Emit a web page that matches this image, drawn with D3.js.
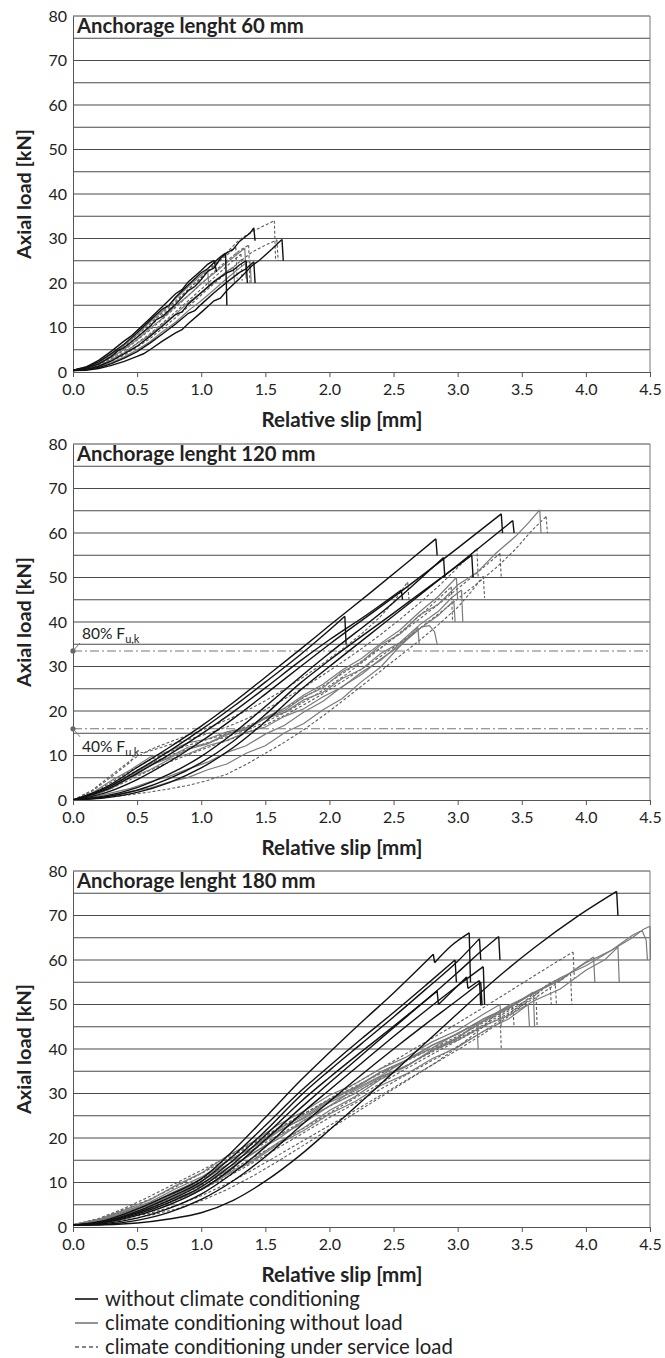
<!DOCTYPE html>
<html><head><meta charset="utf-8">
<script src="https://cdn.jsdelivr.net/npm/d3@7"></script>
<style>
body{margin:0;background:#fff}
svg{display:block}
text{font-family:Lato,"Open Sans",sans-serif;fill:#222}
</style>
</head><body>
<svg id="c" width="665" height="1358"></svg>
<script>
// ---------- DATA ----------
const xTicks = [0,0.5,1,1.5,2,2.5,3,3.5,4,4.5];
const yTicks = [0,10,20,30,40,50,60,70,80];
const gridValues = [5,10,15,20,25,30,35,40,45,50,55,60,65,70,75,80];
const panelTitles = ["Anchorage lenght 60 mm","Anchorage lenght 120 mm","Anchorage lenght 180 mm"];
const xLabel = "Relative slip [mm]";
const yLabel = "Axial load [kN]";
const legendLabels = ["without climate conditioning","climate conditioning without load","climate conditioning under service load"];
const refLevels = [33.5, 16];
const refLabels = ["80% F","40% F"];
const refSub = "u,k";

// 60 mm
const p60Black = [
 [[0,0.4],[0.1,0.8],[0.2,1.8],[0.3,3.5],[0.35,4.8],[0.4,5.5],[0.5,7.8],[0.6,10.3],[0.65,11.8],[0.7,12.5],[0.8,15.2],[0.9,18.3],[0.95,19.2],[1.0,20.8],[1.05,22.6],[1.1,23.4],[1.15,25.5],[1.2,26.8],[1.25,27.6],[1.3,29.4],[1.35,30.5],[1.38,31.2],[1.41,32.4],[1.42,29.5]],
 [[0,0.4],[0.1,1.0],[0.2,2.3],[0.3,4.2],[0.4,6.3],[0.5,8.8],[0.6,11.6],[0.7,14.2],[0.75,15.0],[0.8,16.8],[0.9,19.6],[1.0,22.3],[1.05,23.2],[1.1,24.6],[1.15,25.9],[1.19,26.7],[1.2,15]],
 [[0,0.3],[0.1,0.4],[0.2,0.8],[0.3,1.5],[0.4,2.4],[0.5,3.5],[0.55,4.1],[0.6,5.0],[0.7,7.0],[0.8,8.8],[0.85,9.5],[0.9,10.9],[1.0,13.4],[1.1,16.0],[1.15,16.6],[1.2,18.3],[1.3,21.0],[1.4,24.0],[1.45,25.0],[1.5,26.3],[1.55,27.6],[1.6,29.0],[1.63,29.8],[1.64,25]],
 [[0,0.3],[0.1,0.6],[0.2,1.3],[0.3,2.5],[0.4,4.1],[0.5,5.8],[0.6,8.0],[0.7,10.4],[0.8,12.9],[0.85,13.5],[0.9,15.3],[1.0,17.8],[1.1,20.3],[1.2,22.3],[1.25,22.9],[1.3,24.1],[1.35,25.0],[1.36,20]],
 [[0,0.3],[0.1,0.5],[0.2,1.0],[0.3,1.9],[0.4,3.1],[0.5,4.6],[0.6,6.5],[0.7,8.6],[0.8,10.8],[0.9,13.2],[0.95,13.8],[1.0,15.2],[1.1,17.8],[1.2,20.2],[1.3,22.4],[1.35,23.2],[1.41,24.8],[1.42,20]],
 [[0,0.4],[0.1,1.1],[0.2,2.6],[0.3,4.7],[0.4,7.0],[0.45,8.0],[0.5,9.3],[0.6,12.0],[0.7,14.8],[0.8,17.6],[0.85,18.5],[0.9,20.3],[1.0,22.8],[1.05,24.2],[1.1,25.1],[1.12,22.5]]
];
const p60Grey = [
 [[0,0.4],[0.1,0.8],[0.2,1.8],[0.3,3.3],[0.4,5.1],[0.5,7.3],[0.6,9.8],[0.7,12.1],[0.8,14.9],[0.9,17.2],[1.0,19.9],[1.1,22.2],[1.2,24.6],[1.3,26.9],[1.34,27.8],[1.35,21]],
 [[0,0.4],[0.1,0.7],[0.2,1.4],[0.3,2.8],[0.4,4.3],[0.5,6.4],[0.6,8.3],[0.7,10.8],[0.8,13.0],[0.9,15.6],[1.0,17.9],[1.1,20.4],[1.2,22.6],[1.25,23.6],[1.26,20]],
 [[0,0.4],[0.1,1.0],[0.2,2.1],[0.3,3.9],[0.4,6.0],[0.5,8.4],[0.6,11.2],[0.7,13.7],[0.8,16.5],[0.9,19.2],[1.0,21.8],[1.05,23.0],[1.06,19]],
 [[0,0.3],[0.1,0.6],[0.2,1.1],[0.3,2.1],[0.4,3.4],[0.5,5.0],[0.6,6.8],[0.7,9.1],[0.8,11.2],[0.9,13.8],[1.0,16.0],[1.1,18.5],[1.2,21.0],[1.3,23.4],[1.38,25.2],[1.39,20]]
];
const p60Dashed = [
 [[0,0.4],[0.2,1.9],[0.4,5.4],[0.6,10.2],[0.8,15.6],[0.9,18.5],[1.0,21.3],[1.1,24.2],[1.2,26.9],[1.3,29.8],[1.4,31.6],[1.5,33.0],[1.57,34.0],[1.58,25]],
 [[0,0.3],[0.2,1.2],[0.4,3.8],[0.6,7.5],[0.8,12.2],[0.9,14.7],[1.0,17.3],[1.1,19.9],[1.2,22.3],[1.3,24.8],[1.4,27.0],[1.5,28.5],[1.59,29.7],[1.6,25]],
 [[0,0.4],[0.2,1.7],[0.4,4.9],[0.6,9.4],[0.8,14.5],[0.9,17.2],[1.0,19.8],[1.1,22.5],[1.2,25.0],[1.3,27.3],[1.37,28.5],[1.38,20]],
 [[0,0.4],[0.2,1.5],[0.4,4.4],[0.6,8.6],[0.8,13.5],[1.0,18.6],[1.1,21.2],[1.2,23.8],[1.31,26.5],[1.32,20.5]],
 [[0,0.4],[0.2,2.0],[0.4,5.8],[0.6,10.8],[0.8,16.0],[1.0,21.2],[1.1,23.8],[1.2,26.3],[1.27,28],[1.28,21]]
];

// 120 mm
const p120Black = [
 [[0,0],[0.25,2.8],[0.5,7.3],[0.75,11.8],[1.0,16.6],[1.25,21.9],[1.5,27.6],[1.77,33.8],[2.0,39.2],[2.32,46.6],[2.6,53.2],[2.83,58.7],[2.84,55]],
 [[0,0],[0.25,2.5],[0.5,6.6],[0.75,11],[1.0,15.8],[1.25,21],[1.5,26.5],[1.77,32.6],[2.0,38.2],[2.12,41.3],[2.13,35]],
 [[0,0],[0.25,2.2],[0.5,6],[0.75,10.2],[1.0,14.8],[1.25,19.8],[1.5,25.2],[1.77,31.2],[2.0,36],[2.3,41.8],[2.56,47.2],[2.57,45]],
 [[0,0],[0.25,1.6],[0.5,4.6],[0.75,8.6],[1.0,13.2],[1.25,18.3],[1.5,23.8],[1.77,29.9],[2.0,35],[2.5,45.6],[3.0,56.6],[3.34,64.3],[3.35,60]],
 [[0,0],[0.25,0.9],[0.5,2.8],[0.75,5.8],[1.0,9.8],[1.25,15],[1.5,21],[1.77,27.6],[2.0,33],[2.5,44.4],[2.89,54.5],[2.9,50]],
 [[0,0],[0.25,0.7],[0.5,2.2],[0.75,4.8],[1.0,8.4],[1.25,13.2],[1.5,19.2],[1.77,26.2],[2.0,31.4],[2.5,42],[2.8,48.4],[3.11,55],[3.12,50]],
 [[0,0],[0.25,0.5],[0.5,1.7],[0.75,3.9],[1.0,7.2],[1.25,11.8],[1.5,17.6],[1.77,24.6],[2.0,30],[2.5,41.4],[3.0,52.8],[3.43,62.8],[3.44,60]]
];
const p120Grey = [
 [[0,0],[0.15,1.2],[0.3,3.5],[0.45,5.4],[0.6,8.1],[0.75,9.6],[0.9,11.9],[1.05,12.7],[1.2,14.9],[1.35,15.8],[1.5,18.4],[1.65,20.1],[1.8,23.2],[1.95,25.2],[2.1,28.8],[2.25,31.0],[2.4,34.9],[2.55,37.3],[2.7,41.5],[2.85,44.0],[3.0,48.3],[3.15,51.1],[3.3,55.5],[3.45,59.2],[3.55,62.2],[3.64,65.2],[3.65,60]],
 [[0,0],[0.15,1.6],[0.3,4.4],[0.45,6.8],[0.6,9.6],[0.75,11.0],[0.9,12.9],[1.05,13.7],[1.2,15.3],[1.35,16.2],[1.5,18.3],[1.65,19.7],[1.8,22.5],[1.95,24.2],[2.1,27.3],[2.25,29.4],[2.4,32.9],[2.55,35.4],[2.7,39.3],[2.85,42.4],[2.95,45.4],[3.03,47.2],[3.04,40]],
 [[0,0],[0.15,1.0],[0.3,2.6],[0.45,5.1],[0.6,6.8],[0.75,9.1],[0.9,10.4],[1.05,12.2],[1.2,13.4],[1.35,15.2],[1.5,16.4],[1.65,18.8],[1.8,20.5],[1.95,23.2],[2.1,25.4],[2.25,28.7],[2.4,31.4],[2.55,35.1],[2.65,37.2],[2.72,38.9],[2.78,39.2],[2.82,37.8],[2.84,35]],
 [[0,0],[0.15,0.4],[0.3,1.0],[0.45,1.9],[0.6,2.7],[0.75,4.0],[0.9,5.1],[1.05,6.8],[1.2,8.1],[1.35,10.5],[1.5,12.2],[1.65,15.1],[1.8,17.2],[1.95,20.3],[2.1,22.8],[2.25,26.6],[2.4,29.9],[2.55,34.6],[2.69,38.8],[2.7,35]],
 [[0,0],[0.15,1.1],[0.3,3.2],[0.45,5.0],[0.6,7.8],[0.75,9.4],[0.9,11.4],[1.05,12.6],[1.2,14.6],[1.35,16.1],[1.5,18.6],[1.65,20.6],[1.8,23.6],[1.95,26.0],[2.1,29.2],[2.25,31.8],[2.4,35.2],[2.55,38.2],[2.7,42.2],[2.85,45.8],[2.99,50.0],[3.0,45]],
 [[0,0],[0.15,0.6],[0.3,1.6],[0.45,2.6],[0.6,4.1],[0.75,5.3],[0.9,7.0],[1.05,8.5],[1.2,10.7],[1.35,12.2],[1.5,14.8],[1.65,16.8],[1.8,19.8],[1.95,22.2],[2.1,25.5],[2.25,28.2],[2.4,31.7],[2.55,34.6],[2.7,38.4],[2.85,41.5],[2.97,44.8],[2.98,40]]
];
const p120Dashed = [
 [[0,0],[0.15,0.9],[0.3,2.6],[0.45,4.6],[0.6,6.7],[0.75,8.5],[0.9,10.2],[1.05,11.8],[1.2,13.3],[1.35,15.0],[1.5,16.9],[1.65,19.0],[1.8,21.4],[1.95,23.9],[2.1,26.6],[2.25,29.4],[2.4,32.3],[2.55,35.3],[2.7,38.5],[2.85,41.8],[3.0,45.2],[3.15,48.6],[3.3,52.2],[3.45,56.3],[3.58,60.6],[3.69,63.7],[3.7,60]],
 [[0,0],[0.15,1.5],[0.3,4.0],[0.45,6.6],[0.6,9.0],[0.75,10.8],[0.9,12.3],[1.05,13.6],[1.2,14.9],[1.35,16.5],[1.5,18.4],[1.65,20.6],[1.8,23.0],[1.95,25.6],[2.1,28.4],[2.25,31.2],[2.4,34.2],[2.55,37.4],[2.7,40.6],[2.85,44.0],[3.0,47.5],[3.15,51.0],[3.33,55.4],[3.34,50]],
 [[0,0],[0.15,2.0],[0.3,5.2],[0.45,8.6],[0.5,10.9],[0.55,10.6],[0.6,11.0],[0.75,12.4],[0.9,13.6],[1.05,14.9],[1.2,16.4],[1.35,18.2],[1.5,20.3],[1.65,22.7],[1.8,25.3],[1.95,28.1],[2.1,31.0],[2.25,34.0],[2.4,37.2],[2.55,40.6],[2.7,44.2],[2.85,48.0],[3.0,52.2],[3.15,56.5],[3.16,50]],
 [[0,0],[0.15,0.3],[0.3,0.7],[0.45,1.2],[0.6,1.8],[0.75,2.5],[0.9,3.3],[1.05,4.4],[1.2,5.8],[1.35,8.0],[1.5,10.5],[1.65,13.0],[1.8,15.8],[1.95,18.9],[2.1,22.2],[2.25,25.6],[2.4,29.0],[2.55,32.4],[2.7,35.8],[2.85,39.4],[3.0,43.3],[3.1,46.6],[3.2,50.3],[3.21,45.4]],
 [[0,0],[0.15,1.3],[0.3,3.5],[0.45,5.9],[0.6,8.2],[0.75,10.0],[0.9,11.5],[1.05,12.9],[1.2,14.2],[1.35,15.7],[1.5,17.5],[1.65,19.6],[1.8,22.0],[1.95,24.7],[2.1,27.6],[2.25,30.8],[2.4,34.1],[2.55,37.6],[2.7,41.3],[2.85,45.2],[2.95,47.9],[2.96,40]],
 [[0,0],[0.15,2.2],[0.3,5.6],[0.45,8.9],[0.6,11.3],[0.75,13.0],[0.9,14.6],[1.05,16.2],[1.2,18.0],[1.35,20.0],[1.5,22.3],[1.65,24.9],[1.8,27.7],[1.95,30.7],[2.1,33.9],[2.25,37.3],[2.4,41.3],[2.5,44.5],[2.61,49.0],[2.62,45]]
];

// 180 mm
const p180Black = [
 [[0,0.4],[0.25,1.5],[0.5,4.0],[0.75,7.2],[1.0,10.8],[1.25,17.2],[1.5,24.6],[1.77,32.8],[2.0,39.2],[2.25,46],[2.5,52.6],[2.81,61.3],[2.82,59.4],[2.95,63.2],[3.09,66.1],[3.1,55]],
 [[0,0.4],[0.25,1.3],[0.5,3.5],[0.75,6.6],[1.0,10.2],[1.25,16.0],[1.5,22.8],[1.77,30.4],[2.0,36.2],[2.25,42.3],[2.5,48.2],[2.75,54.3],[2.98,60],[2.99,55]],
 [[0,0.4],[0.25,1.2],[0.5,3.2],[0.75,6.0],[1.0,9.6],[1.25,15.0],[1.5,21.6],[1.77,29.4],[2.0,35.2],[2.25,41.2],[2.5,47.2],[2.75,53.4],[3.0,59.7],[3.17,64.8],[3.18,60]],
 [[0,0.4],[0.25,1.0],[0.5,2.6],[0.75,5.0],[1.0,8.4],[1.25,13.4],[1.5,19.6],[1.77,26.6],[2.0,32.4],[2.25,38.6],[2.5,44.8],[2.75,50.9],[3.0,57.2],[3.2,62.4],[3.32,65.3],[3.33,60]],
 [[0,0.4],[0.25,1.1],[0.5,2.9],[0.75,5.5],[1.0,9.0],[1.25,14.2],[1.5,20.6],[1.77,28.0],[2.0,33.6],[2.25,39.4],[2.5,45.1],[2.84,53],[2.85,50],[3.07,56.2],[3.08,53.6],[3.17,55.4],[3.18,49.8]],
 [[0,0.4],[0.25,0.8],[0.5,2.0],[0.75,4.2],[1.0,7.4],[1.25,12.2],[1.5,18.0],[1.77,25.2],[2.0,30.8],[2.25,36.8],[2.5,42.8],[2.75,48.6],[3.0,54.2],[3.2,58.5],[3.21,50]],
 [[0,0.4],[0.25,0.6],[0.5,1.5],[0.75,3.3],[1.0,6.2],[1.25,10.4],[1.5,15.8],[1.77,22.6],[2.0,28.2],[2.25,34.2],[2.5,40.0],[2.75,45.6],[3.0,51.0],[3.18,55.0],[3.19,49.8]],
 [[0,0.4],[0.25,0.5],[0.5,0.9],[0.75,1.8],[1.0,3.2],[1.25,6.0],[1.5,10.3],[1.77,16.1],[2.0,21.8],[2.25,28.2],[2.5,34.8],[2.75,41.4],[3.0,48.0],[3.3,55.8],[3.6,62.8],[3.94,69.9],[4.24,75.4],[4.25,70]]
];
const p180Grey = [
 [[0,0.5],[0.2,1.4],[0.4,2.9],[0.6,5.0],[0.8,6.9],[1.0,9.8],[1.2,12.6],[1.4,16.6],[1.6,19.8],[1.8,24.0],[2.0,27.2],[2.2,31.0],[2.4,34.0],[2.6,37.5],[2.8,40.2],[3.0,43.6],[3.2,46.3],[3.4,49.8],[3.6,52.6],[3.8,56.0],[4.0,58.7],[4.2,62.2],[4.35,64.8],[4.45,66.9],[4.5,67.6],[4.505,60]],
 [[0,0.5],[0.2,1.2],[0.4,2.6],[0.6,4.1],[0.8,6.5],[1.0,8.6],[1.2,12.0],[1.4,15.0],[1.6,19.0],[1.8,22.3],[2.0,26.2],[2.2,29.3],[2.4,33.2],[2.6,36.1],[2.8,39.8],[3.0,42.6],[3.2,46.2],[3.4,49.1],[3.6,52.8],[3.8,55.7],[4.0,59.4],[4.2,62.2],[4.36,65.5],[4.42,66.4],[4.44,66.5],[4.47,64.5],[4.48,60]],
 [[0,0.5],[0.2,1.3],[0.4,2.8],[0.6,4.5],[0.8,7.0],[1.0,9.5],[1.2,13.2],[1.4,16.4],[1.6,20.4],[1.8,23.4],[2.0,27.2],[2.2,30.0],[2.4,33.6],[2.6,36.2],[2.8,39.6],[3.0,42.0],[3.2,45.2],[3.4,47.6],[3.6,50.9],[3.8,53.5],[4.0,57.7],[4.15,60.1],[4.25,62.9],[4.26,55]],
 [[0,0.5],[0.2,1.5],[0.4,3.3],[0.6,5.3],[0.8,8.1],[1.0,10.8],[1.2,14.7],[1.4,18.0],[1.6,22.0],[1.8,25.0],[2.0,28.7],[2.2,31.4],[2.4,34.9],[2.6,37.5],[2.8,40.9],[3.0,43.4],[3.2,46.7],[3.4,49.3],[3.6,52.7],[3.8,55.4],[3.95,58.6],[4.06,60.7],[4.07,55]],
 [[0,0.5],[0.2,1.4],[0.4,3.1],[0.6,4.9],[0.8,7.6],[1.0,10.2],[1.2,14.0],[1.4,17.3],[1.6,21.4],[1.8,24.6],[2.0,28.4],[2.2,31.2],[2.4,34.8],[2.6,37.4],[2.8,40.8],[3.0,43.4],[3.2,46.8],[3.4,49.4],[3.59,52.8],[3.6,45]],
 [[0,0.5],[0.2,1.1],[0.4,2.4],[0.6,3.8],[0.8,6.1],[1.0,8.3],[1.2,11.7],[1.4,14.7],[1.6,18.6],[1.8,21.7],[2.0,25.4],[2.2,28.2],[2.4,31.8],[2.6,34.4],[2.8,37.8],[3.0,40.4],[3.2,44.0],[3.4,46.8],[3.55,50.0],[3.56,45]],
 [[0,0.5],[0.2,1.6],[0.4,3.5],[0.6,5.6],[0.8,8.6],[1.0,11.2],[1.2,14.8],[1.4,17.8],[1.6,21.6],[1.8,24.4],[2.0,28.0],[2.2,30.6],[2.4,33.8],[2.6,36.2],[2.8,39.6],[3.0,42.4],[3.15,45.8],[3.16,40]],
 [[0,0.5],[0.2,1.7],[0.4,3.8],[0.6,6.1],[0.8,9.3],[1.0,12.1],[1.2,15.9],[1.4,19.1],[1.6,23.0],[1.8,26.0],[2.0,29.6],[2.2,32.2],[2.4,35.6],[2.6,38.2],[2.8,41.6],[3.0,44.2],[3.2,47.8],[3.33,50.0],[3.34,45]]
];
const p180Dashed = [
 [[0,0.5],[0.2,1.8],[0.4,3.9],[0.6,6.3],[0.8,9.0],[1.0,12.0],[1.2,15.2],[1.4,18.6],[1.6,22.0],[1.8,25.4],[2.0,28.8],[2.2,32.2],[2.4,35.6],[2.6,39.0],[2.8,42.4],[3.0,45.8],[3.2,49.3],[3.4,52.9],[3.6,56.5],[3.75,59.2],[3.9,61.8],[3.91,56]],
 [[0,0.5],[0.2,1.3],[0.4,2.7],[0.6,4.5],[0.8,6.7],[1.0,9.3],[1.2,12.3],[1.4,15.5],[1.6,18.8],[1.8,22.2],[2.0,25.6],[2.2,29.0],[2.4,32.3],[2.6,35.6],[2.8,38.8],[3.0,41.9],[3.2,45.0],[3.4,48.1],[3.6,51.4],[3.75,54.3],[3.88,57.0],[3.89,50.2]],
 [[0,0.5],[0.2,1.5],[0.4,3.2],[0.6,5.3],[0.8,7.8],[1.0,10.7],[1.2,13.9],[1.4,17.3],[1.6,20.6],[1.8,23.9],[2.0,27.1],[2.2,30.2],[2.4,33.3],[2.6,36.3],[2.8,39.3],[3.0,42.3],[3.2,45.4],[3.4,48.6],[3.6,52.0],[3.76,55.4],[3.77,50.2]],
 [[0,0.5],[0.2,1.0],[0.4,1.9],[0.6,3.1],[0.8,4.8],[1.0,7.0],[1.2,9.7],[1.4,12.8],[1.6,16.1],[1.8,19.5],[2.0,22.8],[2.2,26.2],[2.4,29.6],[2.6,33.0],[2.8,36.4],[3.0,39.8],[3.2,43.4],[3.4,47.4],[3.6,52.0],[3.72,55.0],[3.73,50]],
 [[0,0.5],[0.2,1.2],[0.4,2.4],[0.6,4.0],[0.8,6.0],[1.0,8.4],[1.2,11.2],[1.4,14.4],[1.6,17.8],[1.8,21.2],[2.0,24.6],[2.2,27.8],[2.4,31.0],[2.6,34.2],[2.8,37.4],[3.0,40.6],[3.2,43.9],[3.4,47.8],[3.61,52.8],[3.62,45]],
 [[0,0.5],[0.2,1.9],[0.4,4.2],[0.6,6.9],[0.8,9.8],[1.0,12.7],[1.2,15.7],[1.4,18.9],[1.6,22.2],[1.8,25.5],[2.0,28.6],[2.2,31.6],[2.4,34.5],[2.6,37.3],[2.8,40.1],[3.0,42.9],[3.2,45.9],[3.43,49.4],[3.44,45]],
 [[0,0.5],[0.2,0.9],[0.4,1.6],[0.6,2.6],[0.8,4.0],[1.0,5.9],[1.2,8.4],[1.4,11.4],[1.6,14.8],[1.8,18.4],[2.0,22.0],[2.2,25.6],[2.4,29.2],[2.6,32.8],[2.8,36.4],[3.0,40.4],[3.2,45.0],[3.33,48.7],[3.34,40]]
];

// ---------- LAYOUT ----------
const panels = [
 {title: panelTitles[0], black: p60Black, grey: p60Grey, dashed: p60Dashed, smoothBlack: false, refs: false},
 {title: panelTitles[1], black: p120Black, grey: p120Grey, dashed: p120Dashed, smoothBlack: true, refs: true},
 {title: panelTitles[2], black: p180Black, grey: p180Grey, dashed: p180Dashed, smoothBlack: true, refs: false}
];
const L = 73, R = 650, PH = 356;
const tops = [16, 444, 871];
const svg = d3.select("#c");
const x = d3.scaleLinear().domain([0,4.5]).range([L,R]);

function fitFont(sel, target, base){
  sel.style("font-size", base+"px");
  const w = sel.node().getComputedTextLength();
  const fs = base*target/w;
  sel.style("font-size", fs+"px");
  return fs;
}

function splitSegs(pts){
  const segs=[]; let cur=[pts[0]];
  for(let k=1;k<pts.length;k++){
    const a=pts[k-1], b=pts[k];
    if(b[1] < a[1]-0.8 && (b[0]-a[0]) < 0.03){
      if(cur.length>1) segs.push({t:"s",p:cur});
      segs.push({t:"d",p:[a,b]});
      cur=[b];
    } else cur.push(b);
  }
  if(cur.length>1) segs.push({t:"s",p:cur});
  return segs;
}

let titleFS = null;
panels.forEach((pn,i)=>{
  const top = tops[i], bot = top+PH;
  const y = d3.scaleLinear().domain([0,80]).range([bot, top]);
  const g = svg.append("g");
  const clipId = "clip"+i;
  svg.append("clipPath").attr("id",clipId).append("rect")
    .attr("x",L).attr("y",top-1).attr("width",R-L+1).attr("height",PH+1);

  g.selectAll("line.grid").data(gridValues).join("line").attr("class","grid")
    .attr("x1",L).attr("x2",R).attr("y1",d=>y(d)).attr("y2",d=>y(d))
    .attr("stroke","#4a4a4a").attr("stroke-width",1.1);
  g.append("line").attr("x1",R).attr("x2",R).attr("y1",y(0)).attr("y2",y(80))
    .attr("stroke","#777").attr("stroke-width",1);

  const xa = g.append("g").attr("transform",`translate(0,${bot})`)
    .call(d3.axisBottom(x).tickValues(xTicks).tickFormat(d3.format(".1f")).tickSize(5).tickSizeOuter(0).tickPadding(7));
  xa.select(".domain").attr("stroke","#555");
  xa.selectAll(".tick line").attr("stroke","#555");
  xa.selectAll("text").style("font-size","16px").attr("fill","#222");
  const ya = g.append("g").attr("transform",`translate(${L},0)`)
    .call(d3.axisLeft(y).tickValues(yTicks).tickSize(0).tickSizeOuter(0).tickPadding(6));
  ya.select(".domain").attr("stroke","#555");
  ya.selectAll("text").style("font-size","16px").attr("fill","#222");

  const xl = g.append("text").attr("x",342).attr("y",bot+55).attr("text-anchor","middle")
    .style("font-weight","bold").text(xLabel);
  fitFont(xl,161,16);
  const yl = g.append("text").attr("transform",`translate(31,${(top+bot)/2}) rotate(-90)`)
    .attr("text-anchor","middle").style("font-weight","bold").text(yLabel);
  fitFont(yl,130,16);

  const tt = g.append("text").attr("x",77).attr("y",top+17).style("font-weight","bold").text(pn.title);
  if(titleFS===null) titleFS = fitFont(tt,227,18); else tt.style("font-size",titleFS+"px");

  if(pn.refs){
    refLevels.forEach((v,k)=>{
      g.append("line").attr("x1",L).attr("x2",R).attr("y1",y(v)).attr("y2",y(v))
        .attr("stroke","#777").attr("stroke-width",1.1).attr("stroke-dasharray","9,3,2,3");
      g.append("circle").attr("cx",L).attr("cy",y(v)).attr("r",2.6).attr("fill","#666");
      const up = k===0;
      g.append("line").attr("x1",L).attr("y1",y(v)).attr("x2",L+7).attr("y2",y(v)+(up?-8:8))
        .attr("stroke","#777").attr("stroke-width",1);
      const t = g.append("text").attr("x",L+9).attr("y",up? y(v)-12 : y(v)+23)
        .style("font-size","15.5px").text(refLabels[k]);
      t.append("tspan").attr("dy",4).style("font-size","11px").text(refSub);
    });
  }

  const cg = g.append("g").attr("clip-path",`url(#${clipId})`);
  const lineLin = d3.line().x(d=>x(d[0])).y(d=>y(d[1]));
  const lineSm = d3.line().x(d=>x(d[0])).y(d=>y(d[1])).curve(d3.curveMonotoneX);
  function pathFor(pts, smooth){
    return splitSegs(pts).map(s=> (s.t==="s" && smooth ? lineSm(s.p) : lineLin(s.p))).join("");
  }
  cg.selectAll("path.dash").data(pn.dashed).join("path").attr("class","dash")
    .attr("d",d=>pathFor(d,false)).attr("fill","none").attr("stroke","#5c5c5c")
    .attr("stroke-width",1.1).attr("stroke-dasharray","3,2");
  cg.selectAll("path.grey").data(pn.grey).join("path").attr("class","grey")
    .attr("d",d=>pathFor(d,false)).attr("fill","none").attr("stroke","#7a7a7a")
    .attr("stroke-width",1.2);
  cg.selectAll("path.black").data(pn.black).join("path").attr("class","black")
    .attr("d",d=>pathFor(d,pn.smoothBlack)).attr("fill","none").attr("stroke","#111")
    .attr("stroke-width",1.4);
});

const legStyles = [
  {stroke:"#111", w:1.6, dash:null},
  {stroke:"#7a7a7a", w:1.6, dash:null},
  {stroke:"#5c5c5c", w:1.3, dash:"4,3"}
];
const lg = svg.append("g");
let legFS = null;
legendLabels.forEach((lab,k)=>{
  const yy = 1299 + k*24;
  const s = legStyles[k];
  lg.append("line").attr("x1",75).attr("x2",98).attr("y1",yy).attr("y2",yy)
    .attr("stroke",s.stroke).attr("stroke-width",s.w).attr("stroke-dasharray",s.dash);
  const t = lg.append("text").attr("x",105).attr("y",yy).attr("dy","0.35em").text(lab);
  if(legFS===null) legFS = fitFont(t,255,17); else t.style("font-size",legFS+"px");
});
</script>
</body></html>
